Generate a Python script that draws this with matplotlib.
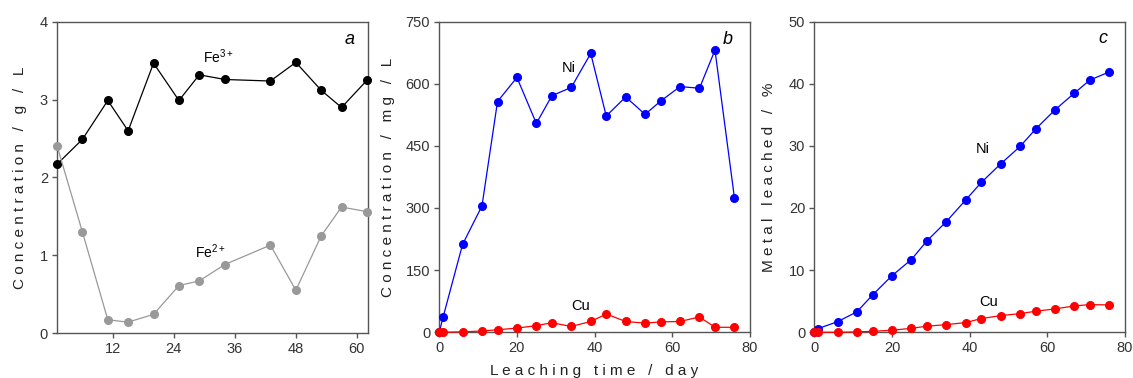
# -*- coding: utf-8 -*-
'''
Leaching of Fe, Ni and Cu versus time (three panels)
'''
import matplotlib
matplotlib.use('Agg')
import matplotlib.pyplot as plt

# panel a : iron in solution, g/L
dayFe = [1, 6, 11, 15, 20, 25, 29, 34, 43, 48, 53, 57, 62]
fe3 = [2.17, 2.49, 2.99, 2.60, 3.47, 2.99, 3.32, 3.26, 3.24, 3.48, 3.12, 2.90, 3.25]
fe2 = [2.41, 1.30, 0.17, 0.14, 0.24, 0.61, 0.67, 0.88, 1.13, 0.55, 1.25, 1.62, 1.56]

# panel b and c : days of sampling
dayNiCu = [0, 1, 6, 11, 15, 20, 25, 29, 34, 39, 43, 48, 53, 57, 62, 67, 71, 76]
# panel b : concentration, mg/L
niConc = [0, 37, 212, 305, 557, 615, 504, 571, 591, 673, 522, 568, 526, 558, 593, 589, 681, 325]
cuConc = [0, 0, 1, 3, 6, 10, 16, 23, 14, 26, 44, 26, 22, 25, 26, 37, 12, 12]
# panel c : metal leached, %
niPct = [0, 0.6, 1.7, 3.3, 6.0, 9.1, 11.7, 14.7, 17.8, 21.3, 24.1, 27.1, 29.9, 32.7, 35.8, 38.5, 40.6, 41.9]
cuPct = [0, 0, 0, 0.05, 0.16, 0.32, 0.64, 0.97, 1.23, 1.56, 2.2, 2.68, 3.0, 3.38, 3.76, 4.24, 4.45, 4.4]

plt.rcParams['font.family'] = ['Liberation Sans', 'DejaVu Sans']
plt.rcParams['mathtext.default'] = 'regular'

fig = plt.figure(figsize=(11.33, 3.78), dpi=100)
axA = fig.add_axes([0.0503, 0.119, 0.2745, 0.823])
axB = fig.add_axes([0.3877, 0.121, 0.2742, 0.822])
axC = fig.add_axes([0.7187, 0.121, 0.2742, 0.822])

spineCol = '#555555'
tickCol = '#333333'
for ax in (axA, axB, axC):
    for s in ax.spines.values():
        s.set_color(spineCol)
        s.set_linewidth(1.0)
    ax.tick_params(direction='out', length=3.5, width=1.0, color=spineCol,
                   labelsize=10.5, labelcolor=tickCol, pad=3)

ms = 5.5
lw = 0.9
labFont = dict(fontsize=11, color='#222222')

# a
axA.plot(dayFe, fe3, '-o', color='black', ms=ms, lw=lw, clip_on=False, zorder=3)
axA.plot(dayFe, fe2, '-o', color='#999999', ms=ms, lw=lw, clip_on=False, zorder=3)
axA.set_xlim(1, 62.2)
axA.set_ylim(0, 4)
axA.set_xticks([12, 24, 36, 48, 60])
axA.set_yticks([0, 1, 2, 3, 4])
axA.set_ylabel('C o n c e n t r a t i o n   /   g   /   L', labelpad=9, **labFont)
axA.text(32.7, 3.55, 'Fe$^{3+}$', fontsize=10, ha='center', va='center')
axA.text(31.2, 1.04, 'Fe$^{2+}$', fontsize=10, ha='center', va='center')
axA.text(58.5, 3.77, 'a', fontsize=13, style='italic', ha='center', va='center')

# b
axB.plot(dayNiCu, niConc, '-o', color='#0000ff', ms=ms, lw=lw, clip_on=False, zorder=3)
axB.plot(dayNiCu, cuConc, '-o', color='#ff0000', ms=ms, lw=lw, clip_on=False, zorder=4)
axB.set_xlim(0, 80)
axB.set_ylim(0, 750)
axB.set_xticks([0, 20, 40, 60, 80])
axB.set_yticks([0, 150, 300, 450, 600, 750])
axB.set_ylabel('C o n c e n t r a t i o n   /   m g   /   L', labelpad=8, **labFont)
axB.set_xlabel('L e a c h i n g   t i m e   /   d a y', labelpad=6, **labFont)
axB.text(33.4, 637, 'Ni', fontsize=10.5, ha='center', va='center')
axB.text(36.5, 64, 'Cu', fontsize=10.5, ha='center', va='center')
axB.text(74.4, 707, 'b', fontsize=13, style='italic', ha='center', va='center')

# c
axC.plot(dayNiCu, niPct, '-o', color='#0000ff', ms=ms, lw=lw, clip_on=False, zorder=3)
axC.plot(dayNiCu, cuPct, '-o', color='#ff0000', ms=ms, lw=lw, clip_on=False, zorder=4)
axC.set_xlim(0, 80)
axC.set_ylim(0, 50)
axC.set_xticks([0, 20, 40, 60, 80])
axC.set_yticks([0, 10, 20, 30, 40, 50])
axC.set_ylabel('M e t a l   l e a c h e d   /   %', labelpad=9, **labFont)
axC.text(43.3, 29.5, 'Ni', fontsize=10.5, ha='center', va='center')
axC.text(45, 4.9, 'Cu', fontsize=10.5, ha='center', va='center')
axC.text(74.4, 47.2, 'c', fontsize=13, style='italic', ha='center', va='center')

fig.savefig('out.png', dpi=100)
